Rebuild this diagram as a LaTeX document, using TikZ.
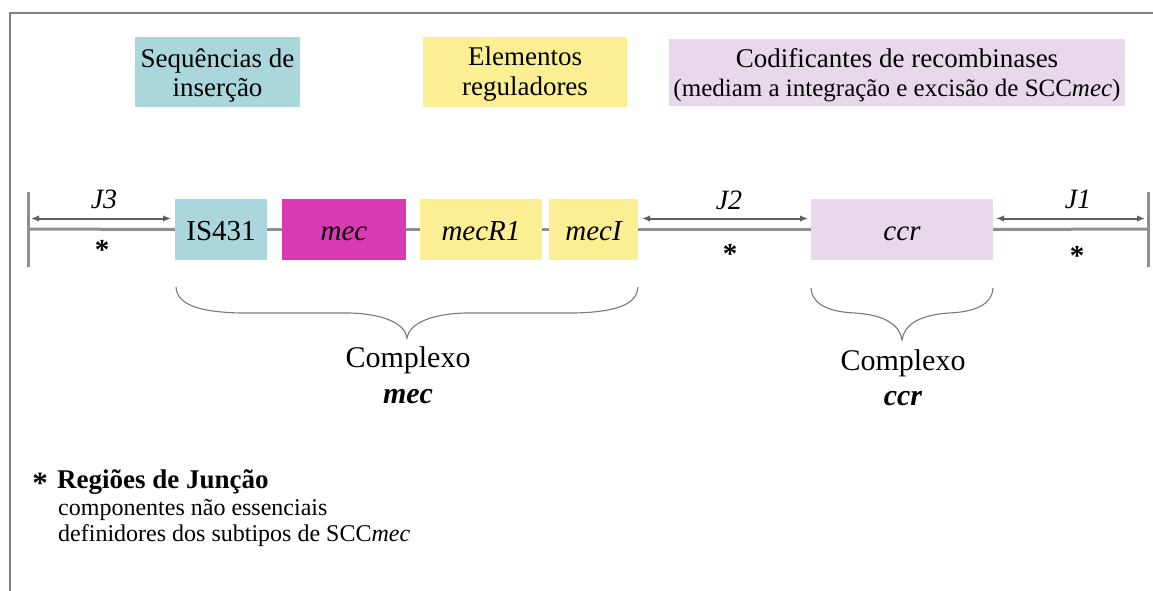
\documentclass[tikz,border=0pt]{standalone}
\usepackage{fontspec}
\setmainfont{Liberation Serif}
\usetikzlibrary{arrows.meta}
\definecolor{tealbox}{HTML}{A9D7DB}
\definecolor{yelbox}{HTML}{FCEF93}
\definecolor{magbox}{HTML}{DA3AB4}
\definecolor{lavbox}{HTML}{E7D8EA}
\definecolor{mainline}{HTML}{8E8E8E}
\definecolor{arrline}{HTML}{5E5E5E}
\definecolor{bracecol}{HTML}{7A7A7A}
\newcommand{\fsz}[1]{\fontsize{#1}{#1}\selectfont}
\begin{document}
\begin{tikzpicture}[x=1pt,y=-1pt,
  gene/.style={rectangle, inner sep=0pt, minimum height=61pt, text height=22pt, text depth=0pt, font=\fsz{29}},
  hdr/.style={rectangle, inner sep=0pt, minimum height=70pt},
  txt/.style={inner sep=0pt, anchor=base},
  txtw/.style={inner sep=0pt, anchor=base west},
  backbone/.style={draw=mainline, line width=3pt},
  junc/.style={draw=arrline, line width=2pt, {Latex[length=8pt,width=6.5pt]}-{Latex[length=8pt,width=6.5pt]}},
  brace/.style={draw=bracecol, line width=1.1pt},
  frameline/.style={draw=gray, line width=1.5pt},
  star/.style={inner sep=0pt, anchor=base, font=\fsz{29}\bfseries}
]
\useasboundingbox (0,0) rectangle (1153,591);
\fill[white] (0,0) rectangle (1153,591);
% frame
\draw[frameline] (10,591) -- (10,13) -- (1153,13);

% header boxes
\node[hdr, fill=tealbox, minimum width=165pt] (hIS) at (217.5,72) {};
\node[txt, font=\fsz{27}] (hIS1) at (217.5,68) {Sequências de};
\node[txt, font=\fsz{27}] (hIS2) at (217.5,97) {inserção};
\node[hdr, fill=yelbox, minimum width=204pt] (hRE) at (525,72) {};
\node[txt, font=\fsz{27}] (hRE1) at (525,66) {Elementos};
\node[txt, font=\fsz{27}] (hRE2) at (525,96) {reguladores};
\node[hdr, fill=lavbox, minimum width=456pt, minimum height=67pt] (hCC) at (897,72.5) {};
\node[txt, font=\fsz{27}] (hCC1) at (897,68) {Codificantes de recombinases};
\node[txt, font=\fsz{25}] (hCC2) at (897,97) {(mediam a integração e excisão de SCC\textit{mec})};

% end bars
\coordinate (barLt) at (28,192);
\coordinate (barLb) at (28,267);
\coordinate (barLm) at (28,229);
\coordinate (barRt) at (1148,192);
\coordinate (barRb) at (1148,267);
\coordinate (barRm) at (1148,229);

% genes
\node[gene, fill=tealbox, minimum width=92pt] (IS431) at (221,229.5) {IS431};
\node[gene, fill=magbox, minimum width=124pt] (mec) at (344,229.5) {\itshape mec};
\node[gene, fill=yelbox, minimum width=122pt] (mecR1) at (481,229.5) {\itshape mecR1};
\node[gene, fill=yelbox, minimum width=89pt] (mecI) at (593.5,229.5) {\itshape mecI};
\node[gene, fill=lavbox, minimum width=182pt] (ccr) at (902,229.5) {\itshape ccr};

% backbone
\draw[backbone] (barLt) -- (barLb);
\draw[backbone] (barRt) -- (barRb);
\draw[backbone] (barLm) -- (IS431.west);
\draw[backbone] (IS431.east) -- (mec.west);
\draw[backbone] (mec.east) -- (mecR1.west);
\draw[backbone] (mecR1.east) -- (mecI.west);
\draw[backbone] (mecI.east) -- (ccr.west);
\draw[backbone] (ccr.east) -- (barRm);

% junction arrows
\coordinate (j3a) at (31,218.5);
\coordinate (j3b) at (171,218.5);
\coordinate (j2a) at (642,218.5);
\coordinate (j2b) at (808,218.5);
\coordinate (j1a) at (996,218.5);
\coordinate (j1b) at (1145,218.5);
\draw[junc] (j3a) -- (j3b);
\draw[junc] (j2a) -- (j2b);
\draw[junc] (j1a) -- (j1b);
\node[txt, font=\fsz{28}\itshape] (lJ3) at (104,208) {J3};
\node[txt, font=\fsz{28}\itshape] (lJ2) at (729,209) {J2};
\node[txt, font=\fsz{28}\itshape] (lJ1) at (1078,208) {J1};
\node[star] (s3) at (102,259.5) {*};
\node[star] (s2) at (730,263) {*};
\node[star] (s1) at (1077,265.5) {*};

% braces
\draw[brace] (176,287) .. controls (177,305) and (200,312) .. (240,313) -- (350,313)
  .. controls (385,314) and (405,324) .. (407,338)
  .. controls (409,324) and (430,314) .. (465,313) -- (575,313)
  .. controls (615,312) and (637,305) .. (638,287);
\draw[brace] (811,288) .. controls (812,305) and (830,312) .. (855,313)
  .. controls (885,315) and (900,325) .. (902,340)
  .. controls (904,325) and (919,315) .. (949,313)
  .. controls (974,312) and (992,305) .. (993,288);

\node[txt, font=\fsz{30}] (cm1) at (408,367) {Complexo};
\node[txt, font=\fsz{30}\bfseries\itshape] (cm2) at (408,403) {mec};
\node[txt, font=\fsz{30}] (cc1) at (903,370) {Complexo};
\node[txt, font=\fsz{30}\bfseries\itshape] (cc2) at (903,405) {ccr};

% legend
\node[txt, font=\fsz{31}\bfseries] (lstar) at (40,493) {*};
\node[txtw, font=\fsz{27}\bfseries] (leg1) at (57,488) {Regiões de Junção};
\node[txtw, font=\fsz{24}] (leg2) at (58,515) {componentes não essenciais};
\node[txtw, font=\fsz{24}] (leg3) at (58,541) {definidores dos subtipos de SCC\textit{mec}};
\end{tikzpicture}
\end{document}
